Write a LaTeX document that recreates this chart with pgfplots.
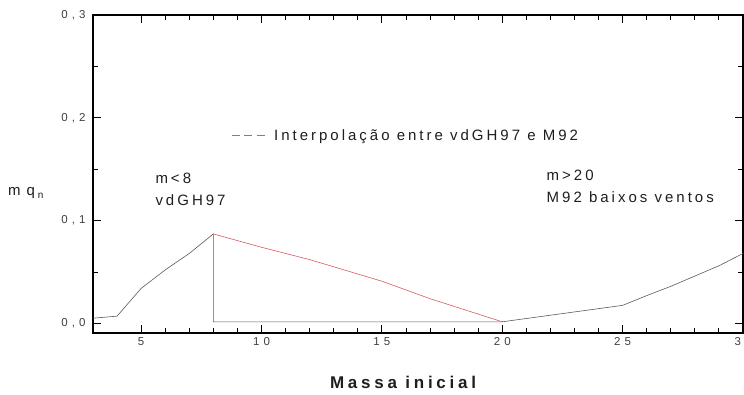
\documentclass[border=0pt]{standalone}
\usepackage{pgfplots}
\pgfplotsset{compat=1.18}
\usepackage{fontspec}
\setmainfont{Liberation Sans}
\newfontfamily\tickfont[LetterSpace=35]{Liberation Sans}
\newfontfamily\spfont[LetterSpace=20]{Liberation Sans}
\newfontfamily\labfont[LetterSpace=22]{Liberation Sans}
\definecolor{txt}{RGB}{30,30,30}
\definecolor{linegray}{RGB}{90,90,90}
\definecolor{interp}{RGB}{215,90,95}
\begin{document}
\begin{tikzpicture}
\begin{axis}[
  scale only axis, width=650pt, height=318pt,
  at={(0,0)}, anchor=south west,
  clip mode=individual,
  xmin=3, xmax=30, ymin=-0.0094, ymax=0.3,
  xtick={5,10,...,30}, ytick={0,0.1,0.2,0.3},
  minor x tick num=4, minor y tick num=1,
  major tick length=8pt, minor tick length=5pt,
  axis line style={line width=1.2pt},
  every tick/.style={black, line width=0.9pt},
  scaled y ticks=false,
  /pgf/number format/assume math mode=true,
  tick label style={font=\tickfont\fontsize{11.5}{13}\selectfont, text=txt!85},
  xticklabel style={yshift=-1pt},
  yticklabel style={xshift=-4pt, /pgf/number format/.cd, fixed, fixed zerofill, precision=1, use comma},
  legend style={at={(axis description cs:0.208,0.62)}, anchor=west, draw=none, fill=none,
    font=\spfont\fontsize{15}{17}\selectfont, text=txt, cells={anchor=west}},
  legend image code/.code={\draw[#1, line width=0.7pt, dash pattern=on 8pt off 4.5pt] (0pt,0pt) -- (33pt,0pt);},
]
\addplot[linegray, line width=0.6pt, forget plot] coordinates {
  (3,0.005) (4,0.007) (5,0.034) (6,0.052) (7,0.068) (8,0.087)
  (8,0.0015) (20,0.0015) (25,0.0175) (26,0.027) (27,0.036) (28,0.046) (29,0.056) (30,0.068)};
\addplot[interp, line width=0.6pt, forget plot] coordinates {
  (8,0.087) (10,0.074) (12,0.062) (15,0.041) (17,0.024) (20,0.0015)};
\addlegendimage{interp}
\addlegendentry{\hspace{7pt}Interpolação entre vdGH97 e M92}
\node[anchor=west, font=\spfont\fontsize{15}{17}\selectfont, text=txt] at (axis cs:5.45,0.1414) {m<8};
\node[anchor=west, font=\spfont\fontsize{15}{17}\selectfont, text=txt] at (axis cs:5.45,0.120) {vdGH97};
\node[anchor=west, font=\spfont\fontsize{15}{17}\selectfont, text=txt] at (axis cs:21.7,0.144) {m>20};
\node[anchor=west, font=\spfont\fontsize{15}{17}\selectfont, text=txt] at (axis cs:21.7,0.123) {M92 baixos ventos};
\node[anchor=west, inner sep=0pt, font=\spfont\fontsize{15}{17}\selectfont, text=txt] at (axis description cs:-0.131,0.44) {m\hspace{6pt}q\hspace{3pt}{\fontsize{10}{11}\selectfont\raisebox{-3pt}{n}}};
\node[font=\labfont\bfseries\fontsize{17}{20}\selectfont, text=txt] at (axis description cs:0.477,-0.154) {Massa inicial};
\end{axis}
\pgfresetboundingbox
\useasboundingbox (-93pt,-61pt) rectangle (651pt,333pt);
\end{tikzpicture}
\end{document}
